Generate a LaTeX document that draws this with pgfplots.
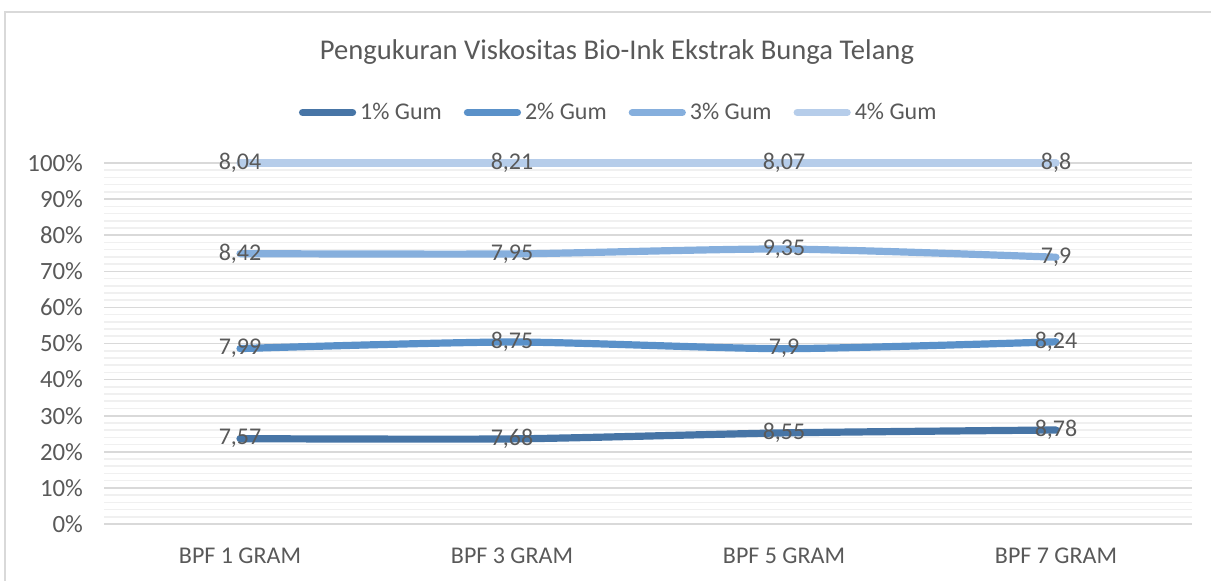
\documentclass[border=0pt]{standalone}
\usepackage{pgfplots}
\pgfplotsset{compat=1.18}
\usepackage{fontspec}
\setmainfont{Carlito}
\definecolor{txt}{HTML}{595959}
\definecolor{cA}{HTML}{4775A6}
\definecolor{cB}{HTML}{5A91C9}
\definecolor{cC}{HTML}{86AFDD}
\definecolor{cD}{HTML}{B6CDEA}
\definecolor{gmaj}{HTML}{D9D9D9}
\definecolor{gmin}{HTML}{F0F0F0}
\begin{document}
\begin{tikzpicture}
\useasboundingbox (0,0) rectangle (605.5pt,290pt);
\draw[gmaj, line width=0.6pt] (2.5pt,-5pt) -- (2.5pt,284pt) -- (612pt,284pt);
\node[text=txt, font=\fontsize{14.3}{17}\selectfont] at (308.5pt,264pt) {Pengukuran Viskositas Bio-Ink Ekstrak Bunga Telang};
\begin{axis}[
  scale only axis,
  width=544pt, height=180.5pt,
  at={(52pt,28pt)}, anchor=south west,
  xmin=-0.5, xmax=3.5, ymin=0, ymax=100,
  xtick={0,1,2,3},
  xticklabels={BPF 1 GRAM, BPF 3 GRAM, BPF 5 GRAM, BPF 7 GRAM},
  ytick={0,10,...,100},
  minor y tick num=4,
  yticklabel={\pgfmathprintnumber{\tick}\%},
  /pgf/number format/assume math mode=true,
  tick style={draw=none},
  major tick length=0pt, minor tick length=0pt,
  ymajorgrids, yminorgrids,
  major grid style={gmaj, line width=0.8pt},
  minor grid style={gmin, line width=0.8pt},
  axis x line*=bottom,
  axis y line*=left,
  x axis line style={gmaj, line width=0.8pt, -},
  y axis line style={draw=none},
  ticklabel style={text=txt, font=\fontsize{12}{14}\selectfont},
  yticklabel style={xshift=-7pt, font=\fontsize{12.4}{14}\selectfont},
  xticklabel style={yshift=-8.5pt},
  clip=false,
  legend columns=4,
  legend style={at={(0.474,1.14)}, anchor=center, draw=none, fill=none,
    font=\fontsize{12}{14}\selectfont, text=txt,
    /tikz/every even column/.style={column sep=9pt}},
  legend image code/.code={\draw[#1, line cap=round] (0pt,0pt) -- (25pt,0pt);},
  every axis plot/.append style={line width=3.6pt, smooth, tension=0.4, line cap=round},
  nodes near coords,
  point meta=explicit symbolic,
  every node near coord/.style={anchor=center, text=txt, font=\fontsize{12}{14}\selectfont},
]
\addplot[cA] table[meta=lab] {
x y lab
0 23.64 7,57
1 23.57 7,68
2 25.24 8,55
3 26.04 8,78
};
\addlegendentry{1\% Gum}
\addplot[cB] table[meta=lab] {
x y lab
0 48.59 7,99
1 50.41 8,75
2 48.57 7,9
3 50.47 8,24
};
\addlegendentry{2\% Gum}
\addplot[cC] table[meta=lab] {
x y lab
0 74.89 8,42
1 74.81 7,95
2 76.17 9,35
3 73.90 7,9
};
\addlegendentry{3\% Gum}
\addplot[cD] table[meta=lab] {
x y lab
0 100 8,04
1 100 8,21
2 100 8,07
3 100 8,8
};
\addlegendentry{4\% Gum}
\end{axis}
\end{tikzpicture}
\end{document}
